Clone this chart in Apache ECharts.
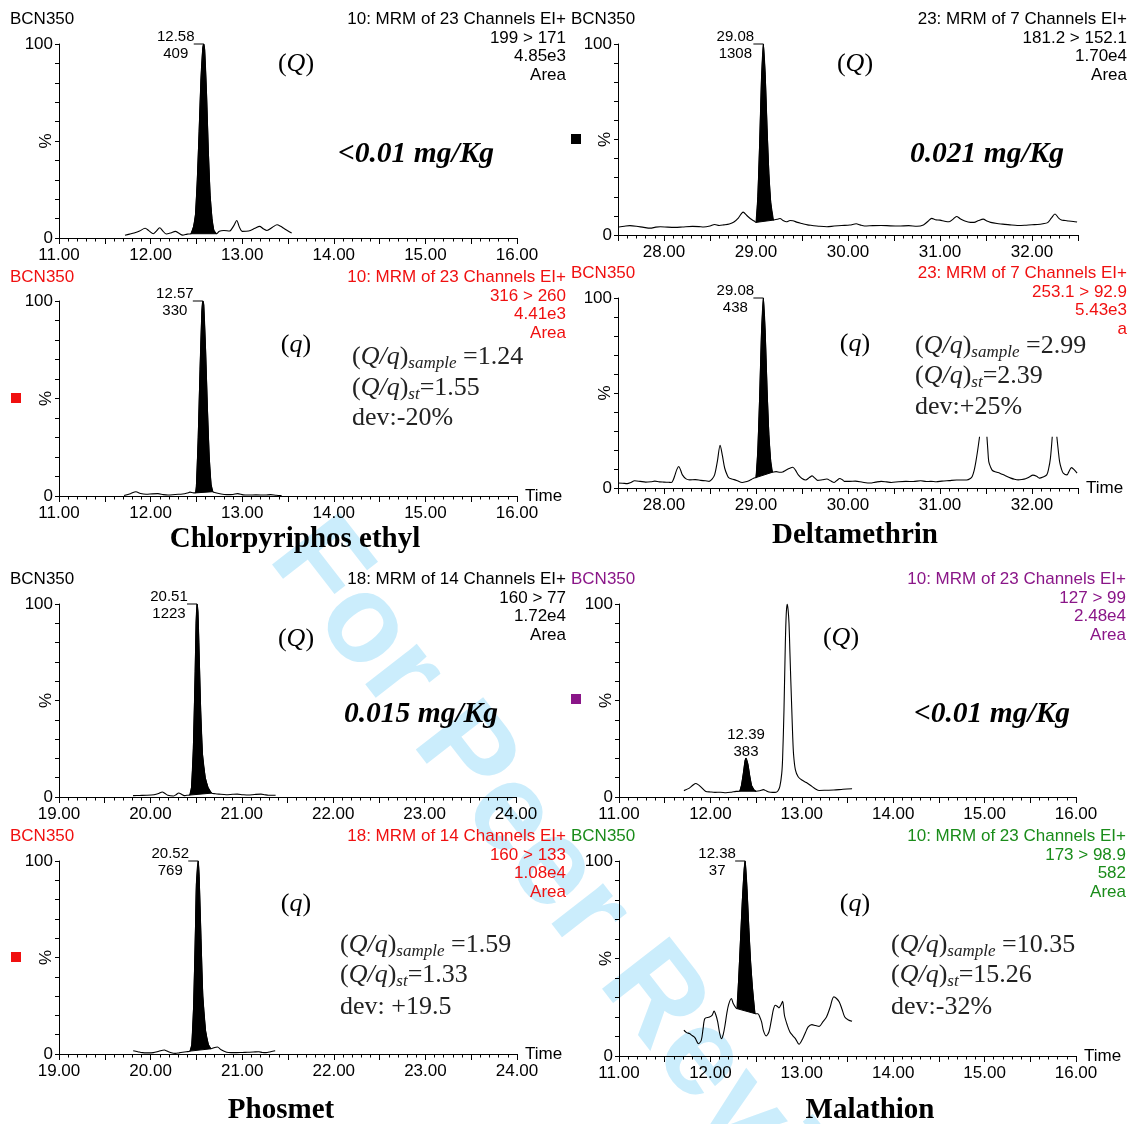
<!DOCTYPE html>
<html><head><meta charset="utf-8">
<script src="https://cdn.jsdelivr.net/npm/echarts@6/dist/echarts.min.js"></script>
<style>html,body{margin:0;padding:0;background:#fff}#c{width:1134px;height:1124px}</style>
</head><body><div id="c"></div>
<script>
// ---------- DATA (time in min, intensity in %) ----------
const chlorQPre = [[11.72,1.4],[11.77,2.0],[11.82,2.6],[11.88,3.6],[11.94,5.0],[11.98,3.8],[12.03,2.2],[12.06,3.4],[12.10,5.3],[12.13,3.8],[12.17,2.1],[12.22,2.6],[12.27,3.4],[12.31,2.4],[12.35,1.5],[12.40,2.0]];
const chlorQPeak = [[12.44,2.2],[12.47,6],[12.49,12],[12.51,30],[12.53,55],[12.55,82],[12.57,98],[12.58,100],[12.59,97],[12.61,75],[12.63,45],[12.65,22],[12.67,10],[12.69,4],[12.72,2.2]];
const chlorQPost = [[12.75,3.5],[12.80,3.9],[12.86,3.6],[12.91,6.5],[12.94,9],[12.97,5.5],[13.00,3.4],[13.07,3.6],[13.14,5],[13.19,6],[13.23,4.8],[13.27,3.9],[13.33,5.5],[13.38,6.8],[13.42,6],[13.46,4.8],[13.54,2.6]];

const chlorqPre = [[11.71,0.3],[11.78,1.2],[11.84,2.2],[11.89,1.3],[11.95,0.9],[12.02,1.1],[12.08,1.2],[12.14,0.7],[12.19,0.5],[12.27,0.8],[12.35,1.0],[12.40,1.5],[12.43,2.0],[12.47,1.6]];
const chlorqPeak = [[12.49,1.6],[12.50,5],[12.52,30],[12.54,65],[12.56,95],[12.57,100],[12.58,98],[12.60,75],[12.62,45],[12.64,20],[12.66,6],[12.68,2.2]];
const chlorqPost = [[12.71,1.7],[12.77,1.0],[12.83,0.7],[12.90,0.8],[12.95,1.2],[13.01,0.6],[13.07,0.5],[13.15,0.6],[13.25,0.5],[13.31,0.7],[13.37,0.4],[13.43,0.2]];

const deltaQPre = [[27.51,4.2],[27.57,4.6],[27.63,4.9],[27.70,4.6],[27.78,4.0],[27.85,3.6],[27.91,4.1],[27.96,4.3],[28.04,4.1],[28.12,4.0],[28.20,4.2],[28.31,4.5],[28.38,4.4],[28.43,4.2],[28.50,4.7],[28.55,5.5],[28.60,5.0],[28.65,5.3],[28.71,5.8],[28.76,6.8],[28.81,9],[28.86,12],[28.90,10.2],[28.94,8.5],[28.98,7.3]];
const deltaQPeak = [[29.00,6.6],[29.02,20],[29.04,48],[29.06,82],[29.08,100],[29.10,84],[29.12,56],[29.14,32],[29.16,17],[29.19,7.8]];
const deltaQPost = [[29.23,8.2],[29.26,8.6],[29.30,7.4],[29.33,6.9],[29.37,7.6],[29.40,7.5],[29.45,6.6],[29.50,6.0],[29.56,5.3],[29.61,5.0],[29.68,4.6],[29.77,4.3],[29.85,4.7],[29.93,5.0],[30.02,5.2],[30.09,5.9],[30.13,5.3],[30.18,4.7],[30.27,4.9],[30.36,5.0],[30.46,4.8],[30.55,4.7],[30.66,4.9],[30.75,4.6],[30.82,5.3],[30.87,7.2],[30.91,8.7],[30.95,8.0],[31.00,7.8],[31.05,7.2],[31.10,6.9],[31.14,8.2],[31.18,9.7],[31.22,8.5],[31.27,7.3],[31.33,6.6],[31.37,6.6],[31.42,7.6],[31.47,8.3],[31.51,7.3],[31.55,6.6],[31.62,6.0],[31.68,5.7],[31.76,5.3],[31.84,5.0],[31.92,5.1],[32.00,5.4],[32.06,5.5],[32.12,5.9],[32.17,6.5],[32.21,8.8],[32.25,11],[32.29,8.8],[32.32,7.8],[32.36,7.6],[32.40,7.3],[32.45,7.1],[32.49,6.8]];

const deltaqPre = [[27.50,2.6],[27.55,2.5],[27.60,2.3],[27.64,2.9],[27.68,3.8],[27.74,3.5],[27.80,3.1],[27.86,3.3],[27.90,3.6],[27.95,3.2],[28.00,3.1],[28.05,3.0],[28.08,2.9],[28.10,4.2],[28.12,6.9],[28.14,9.8],[28.16,11.3],[28.18,9.5],[28.20,6.9],[28.24,4.8],[28.28,4.3],[28.34,4.4],[28.40,4.0],[28.45,3.8],[28.49,3.5],[28.52,4.5],[28.55,6.9],[28.58,14],[28.61,22.5],[28.635,17],[28.66,10.4],[28.69,6.5],[28.71,5.2],[28.75,4.6],[28.79,4.0],[28.85,2.9],[28.89,3.3],[28.93,4.0],[28.96,4.8],[28.98,5.3]];
const deltaqPeak = [[29.00,5.5],[29.02,20],[29.04,48],[29.06,82],[29.08,100],[29.10,82],[29.12,52],[29.14,28],[29.16,14],[29.18,8.3]];
const deltaqPost = [[29.22,8.6],[29.26,8.3],[29.29,8.4],[29.32,9.2],[29.36,10.2],[29.40,10.9],[29.43,9.3],[29.46,6.9],[29.50,5.0],[29.54,4.2],[29.58,5.5],[29.61,6.4],[29.64,5.2],[29.67,4.0],[29.72,4.3],[29.77,4.7],[29.81,3.8],[29.85,2.9],[29.88,4.0],[29.91,5.0],[29.94,4.3],[29.96,3.5],[30.02,3.5],[30.08,3.6],[30.16,3.0],[30.24,2.6],[30.30,3.1],[30.36,3.5],[30.42,3.2],[30.47,2.9],[30.55,3.3],[30.63,3.5],[30.71,3.4],[30.79,3.8],[30.85,3.4],[30.90,3.5],[30.96,3.3],[31.02,3.6],[31.10,3.9],[31.18,4.2],[31.24,4.2],[31.29,4.2],[31.33,5.0],[31.35,6.1],[31.37,9],[31.39,13.9],[31.41,20],[31.43,27],[31.47,null],[31.51,27],[31.52,20],[31.53,13.9],[31.55,11],[31.57,9.2],[31.61,8.4],[31.65,7.8],[31.71,6.5],[31.77,5.2],[31.81,4.6],[31.85,4.3],[31.89,4.5],[31.93,4.9],[31.97,5.8],[32.01,6.8],[32.05,6.2],[32.08,5.2],[32.12,5.8],[32.16,6.9],[32.18,10],[32.20,15.6],[32.22,27],[32.245,null],[32.27,27],[32.285,20],[32.30,13.9],[32.32,10],[32.34,7.8],[32.38,6.9],[32.40,8.5],[32.43,10.7],[32.46,9.5],[32.49,7.8]];

const phosQPre = [[19.81,0.7],[19.88,0.8],[19.96,0.9],[20.04,1.2],[20.09,1.8],[20.13,2.6],[20.16,1.8],[20.19,0.9],[20.25,0.5],[20.28,1.2],[20.31,2.1],[20.34,1.4],[20.37,0.7],[20.40,0.9]];
const phosQPeak = [[20.43,1.0],[20.45,5],[20.47,25],[20.49,65],[20.50,90],[20.51,100],[20.52,96],[20.53,80],[20.55,45],[20.57,22],[20.60,10],[20.63,5],[20.67,2]];
const phosQPost = [[20.71,1.7],[20.75,1.5],[20.83,1.2],[20.90,1.4],[20.95,1.5],[21.01,1.2],[21.07,1.0],[21.14,1.3],[21.21,1.5],[21.25,1.2],[21.29,0.9],[21.37,0.9]];

const malQPre = [[11.71,3.3],[11.77,4.6],[11.81,6.2],[11.84,7.0],[11.87,6.3],[11.89,5.5],[11.95,2.9],[12.00,2.6],[12.05,2.4],[12.11,2.5],[12.17,2.2],[12.23,2.5],[12.28,2.9]];
const malQPeak = [[12.32,3.0],[12.34,6],[12.36,12],[12.38,19],[12.39,20],[12.41,17],[12.43,11],[12.45,6],[12.48,3.5],[12.50,3.0]];
const malQPost = [[12.54,3.2],[12.58,3.8],[12.61,3.2],[12.64,2.6],[12.68,2.4],[12.72,2.5],[12.74,3.2],[12.76,5.5],[12.78,12],[12.79,20],[12.805,45],[12.82,80],[12.83,95],[12.84,100],[12.85,97],[12.86,90],[12.87,75],[12.88,60],[12.89,46],[12.90,32],[12.91,22],[12.93,14],[12.96,10.5],[13.00,8.8],[13.05,7.5],[13.11,5.5],[13.15,4.2],[13.19,3.4],[13.27,3.5],[13.35,3.6],[13.45,4.0],[13.55,4.3]];

const phosqPre = [[19.81,1.7],[19.86,1.2],[19.91,0.7],[19.97,0.6],[20.03,0.7],[20.09,1.4],[20.15,2.1],[20.18,1.5],[20.21,0.9],[20.27,0.3],[20.31,0.6],[20.35,0.9],[20.39,1.2]];
const phosqPeak = [[20.43,1.5],[20.45,5],[20.47,25],[20.49,65],[20.50,88],[20.52,100],[20.53,92],[20.55,60],[20.57,30],[20.60,12],[20.63,5],[20.66,2.7]];
const phosqPost = [[20.70,3.4],[20.73,3.6],[20.77,2.2],[20.83,0.9],[20.88,0.7],[20.94,0.7],[21.00,0.8],[21.06,0.9],[21.12,1.0],[21.18,1.2],[21.22,0.8],[21.26,0.7],[21.31,1.2],[21.36,1.7]];

const malqPre = [[11.71,13.2],[11.74,12.0],[11.77,11.5],[11.80,10.5],[11.83,9.4],[11.87,6.3],[11.90,8],[11.92,14],[11.94,19.2],[11.99,20],[12.02,21],[12.04,23],[12.06,21],[12.08,17.5],[12.10,12],[12.12,8.9],[12.14,11],[12.16,15.8],[12.18,22],[12.20,26.5],[12.23,29.5],[12.25,26.9],[12.28,24.6]];
const malqPeak = [[12.29,24.3],[12.31,40],[12.33,60],[12.35,80],[12.37,96],[12.38,100],[12.40,86],[12.42,66],[12.44,48],[12.46,35],[12.48,25],[12.49,21.7]];
const malqPost = [[12.52,21.7],[12.54,20],[12.56,17.5],[12.58,13],[12.61,10.3],[12.64,12.3],[12.67,19.2],[12.69,24],[12.71,26],[12.73,25.5],[12.75,24.7],[12.77,26],[12.79,28],[12.81,20.9],[12.84,16],[12.87,12.3],[12.90,10.5],[12.93,8.9],[12.97,6],[13.01,8.9],[13.04,12],[13.07,14.9],[13.11,16.1],[13.15,15.6],[13.19,15.2],[13.23,17.5],[13.27,20],[13.31,25],[13.35,30.3],[13.38,29.5],[13.41,27.7],[13.44,24],[13.47,20],[13.51,18.5],[13.55,17.8]];

// axis ranges (min, max)
const chlorRange = [11, 16];
const deltaRange = [27.5, 32.5];
const phosRange = [19, 24];
const malRange = [11, 16];

// peak labels (retention time, area)
const chlorQLabel = ['12.58', '409'];
const chlorqLabel = ['12.57', '330'];
const deltaQLabel = ['29.08', '1308'];
const deltaqLabel = ['29.08', '438'];
const phosQLabel = ['20.51', '1223'];
const malQLabel = ['12.39', '383'];
const phosqLabel = ['20.52', '769'];
const malqLabel = ['12.38', '37'];

// header texts
const hdrChlorQ = ['10: MRM of 23 Channels EI+', '199 > 171', '4.85e3', 'Area'];
const hdrChlorq = ['10: MRM of 23 Channels EI+', '316 > 260', '4.41e3', 'Area'];
const hdrDeltaQ = ['23: MRM of 7 Channels EI+', '181.2 > 152.1', '1.70e4', 'Area'];
const hdrDeltaq = ['23: MRM of 7 Channels EI+', '253.1 > 92.9', '5.43e3', 'a'];
const hdrPhosQ = ['18: MRM of 14 Channels EI+', '160 > 77', '1.72e4', 'Area'];
const hdrMalQ = ['10: MRM of 23 Channels EI+', '127 > 99', '2.48e4', 'Area'];
const hdrPhosq = ['18: MRM of 14 Channels EI+', '160 > 133', '1.08e4', 'Area'];
const hdrMalq = ['10: MRM of 23 Channels EI+', '173 > 98.9', '582', 'Area'];

const ratioChlor = ['1.24', '1.55', 'dev:-20%'];
const ratioDelta = ['2.99', '2.39', 'dev:+25%'];
const ratioPhos = ['1.59', '1.33', 'dev: +19.5'];
const ratioMal = ['10.35', '15.26', 'dev:-32%'];

// ---------- LAYOUT ----------
const SANS = 'Liberation Sans';
const SERIF = 'Liberation Serif';
const RED = '#f01010', PURPLE = '#8a1688', GREEN = '#1a8c1a';
const FS = 17;

const panels = [
  {grid:{left:59, top:44, width:458, height:194}, range:chlorRange, pre:chlorQPre, peak:chlorQPeak, post:chlorQPost, label:chlorQLabel, above:false, time:false,
   hdr:hdrChlorQ, hx:10, hr:566, hy:[17,36,54,73], color:'#000', square:null, qt:'Q', qpos:[296,62], conc:'<0.01 mg/Kg', cpos:[416,152]},
  {grid:{left:618, top:44, width:460, height:191}, range:deltaRange, pre:deltaQPre, peak:deltaQPeak, post:deltaQPost, label:deltaQLabel, above:false, time:false,
   hdr:hdrDeltaQ, hx:571, hr:1127, hy:[17,36,54,73], color:'#000', square:[571,134,'#000'], qt:'Q', qpos:[855,62], conc:'0.021 mg/Kg', cpos:[987,152]},
  {grid:{left:59, top:301, width:458, height:195}, range:chlorRange, pre:chlorqPre, peak:chlorqPeak, post:chlorqPost, label:chlorqLabel, above:false, time:true,
   hdr:hdrChlorq, hx:10, hr:566, hy:[275,294,312,331], color:RED, square:[11,393,RED], qt:'q', qpos:[296,343], ratio:ratioChlor, rpos:[352,355,386,416], title:'Chlorpyriphos ethyl', tpos:[295,537]},
  {grid:{left:618, top:298, width:460, height:190}, range:deltaRange, pre:deltaqPre, peak:deltaqPeak, post:deltaqPost, label:deltaqLabel, above:false, time:true,
   hdr:hdrDeltaq, hx:571, hr:1127, hy:[271,290,308,327], color:RED, square:null, qt:'q', qpos:[855,342], ratio:ratioDelta, rpos:[915,344,374,405], title:'Deltamethrin', tpos:[855,533]},
  {grid:{left:59, top:604, width:457, height:193}, range:phosRange, pre:phosQPre, peak:phosQPeak, post:phosQPost, label:phosQLabel, above:false, time:false,
   hdr:hdrPhosQ, hx:10, hr:566, hy:[577,596,614,633], color:'#000', square:null, qt:'Q', qpos:[296,637], conc:'0.015 mg/Kg', cpos:[421,712]},
  {grid:{left:619, top:604, width:457, height:193}, range:malRange, pre:malQPre, peak:malQPeak, post:malQPost, label:malQLabel, above:true, time:false,
   hdr:hdrMalQ, hx:571, hr:1126, hy:[577,596,614,633], color:PURPLE, square:[571,694,PURPLE], qt:'Q', qpos:[841,636], conc:'<0.01 mg/Kg', cpos:[992,712]},
  {grid:{left:59, top:861, width:458, height:193}, range:phosRange, pre:phosqPre, peak:phosqPeak, post:phosqPost, label:phosqLabel, above:false, time:true,
   hdr:hdrPhosq, hx:10, hr:566, hy:[834,853,871,890], color:RED, square:[11,952,RED], qt:'q', qpos:[296,902], ratio:ratioPhos, rpos:[340,943,973,1005], title:'Phosmet', tpos:[281,1108]},
  {grid:{left:619, top:861, width:457, height:195}, range:malRange, pre:malqPre, peak:malqPeak, post:malqPost, label:malqLabel, above:false, time:true,
   hdr:hdrMalq, hx:571, hr:1126, hy:[834,853,871,890], color:GREEN, square:null, qt:'q', qpos:[855,902], ratio:ratioMal, rpos:[891,943,973,1005], title:'Malathion', tpos:[870,1108]}
];

const DY = 2; // visual baseline correction for canvas "middle"
function txt(x, y, text, st) {
  return {type:'text', x:x, y:y + DY, silent:true, z:50,
    style:Object.assign({text:text, fill:'#000', fontFamily:SANS, fontSize:FS, align:'left', verticalAlign:'middle', textAlign:'left', textVerticalAlign:'middle'}, st)};
}

const grids = [], xAxes = [], yAxes = [], series = [];
const graphic = [];

// watermark
graphic.push({type:'text', x:294, y:537, rotation:-0.91, silent:true, z:-100,
  style:{text:'For Peer Review', fill:'#cbedfc', fontFamily:SANS, fontWeight:'bold', fontSize:124, align:'left', verticalAlign:'middle', textAlign:'left', textVerticalAlign:'middle'}});

panels.forEach(function (p, i) {
  grids.push(Object.assign({outerBoundsMode:'none', containLabel:false}, p.grid));
  xAxes.push({type:'value', gridIndex:i, min:p.range[0], max:p.range[1], interval:0.5,
    name:p.time ? 'Time' : '', nameLocation:'end', nameGap:8, nameMoveOverlap:false,
    nameTextStyle:{fontSize:FS, color:'#000', fontFamily:SANS, align:'left', verticalAlign:'middle'},
    axisLine:{show:true, onZero:false, lineStyle:{color:'#000', width:1}},
    axisTick:{show:true, length:6, lineStyle:{color:'#000', width:1}},
    minorTick:{show:true, splitNumber:5, length:3.5, lineStyle:{color:'#000', width:1}},
    axisLabel:{show:true, interval:0, margin:9, fontSize:FS, color:'#000', fontFamily:SANS,
      formatter:function (v) { return Math.abs(v - Math.round(v)) < 1e-6 ? Math.round(v).toFixed(2) : ''; }},
    splitLine:{show:false}, minorSplitLine:{show:false}});
  yAxes.push({type:'value', gridIndex:i, min:0, max:100, interval:10,
    name:'%', nameLocation:'middle', nameGap:4, nameRotate:90, nameMoveOverlap:false,
    nameTextStyle:{fontSize:FS, color:'#000', fontFamily:SANS},
    axisLine:{show:true, onZero:false, lineStyle:{color:'#000', width:1}},
    axisTick:{show:true, length:4, lineStyle:{color:'#000', width:1}},
    axisLabel:{show:true, margin:6, fontSize:FS, color:'#000', fontFamily:SANS,
      formatter:function (v) { return (v === 0 || v === 100) ? String(v) : ''; }},
    splitLine:{show:false}});

  const full = p.pre.concat(p.peak, p.post);
  const top = p.peak.reduce(function (a, b) { return b[1] > a[1] ? b : a; });
  series.push({type:'line', xAxisIndex:i, yAxisIndex:i, data:full, symbol:'none', smooth:0.3, connectNulls:false,
    lineStyle:{color:'#000', width:1.1}, silent:true, z:4,
    markPoint:{silent:true, animation:false,
      data:[{coord:top, symbol:'rect', symbolSize:p.above ? [1,1] : [10,1], symbolOffset:p.above ? [0,0] : [-5,0],
        itemStyle:{color:p.above ? 'rgba(0,0,0,0)' : '#000'},
        label:{show:true, position:'inside', offset:p.above ? [0,-15] : [-23,1], align:'center', verticalAlign:'middle',
          formatter:p.label.join('\n'), color:'#000', fontSize:15, lineHeight:17, fontFamily:SANS}}]}});
  const pk = p.peak;
  series.push({type:'custom', xAxisIndex:i, yAxisIndex:i, data:[pk[0]], silent:true, z:3,
    renderItem:function (params, api) {
      return {type:'polygon', shape:{points:pk.map(function (pt) { return api.coord(pt); })},
        style:{fill:'#000', stroke:'#000', lineWidth:1}};
    }});

  // header texts
  graphic.push(txt(p.hx, p.hy[0], 'BCN350', {fill:p.color}));
  p.hdr.forEach(function (t, k) {
    graphic.push(txt(p.hr, p.hy[k], t, {fill:p.color, align:'right', textAlign:'right'}));
  });
  if (p.square) graphic.push({type:'rect', silent:true, z:50, shape:{x:p.square[0], y:p.square[1], width:10, height:10}, style:{fill:p.square[2]}});
  // (Q)/(q)
  graphic.push(txt(p.qpos[0], p.qpos[1], '{p|(}{i|' + p.qt + '}{p|)}', {align:'center', textAlign:'center', fontFamily:SERIF, fontSize:26,
    rich:{p:{fontFamily:SERIF, fontSize:26, fill:'#000'}, i:{fontFamily:SERIF, fontSize:26, fontStyle:'italic', fill:'#000'}}}));
  if (p.conc) graphic.push(txt(p.cpos[0], p.cpos[1], p.conc, {align:'center', textAlign:'center', fontFamily:SERIF, fontSize:29.5, fontWeight:'bold', fontStyle:'italic'}));
  if (p.ratio) {
    const rich = {p:{fontFamily:SERIF, fontSize:26, lineHeight:30, fill:'#222'},
                  i:{fontFamily:SERIF, fontSize:26, lineHeight:30, fontStyle:'italic', fill:'#222'},
                  sub:{fontFamily:SERIF, fontSize:17, lineHeight:11, fontStyle:'italic', fill:'#222', verticalAlign:'bottom'}};
    graphic.push(txt(p.rpos[0], p.rpos[1], '{p|(}{i|Q/q}{p|)}{sub|sample}{p| =' + p.ratio[0] + '}', {fontFamily:SERIF, fontSize:26, rich:rich}));
    graphic.push(txt(p.rpos[0], p.rpos[2], '{p|(}{i|Q/q}{p|)}{sub|st}{p|=' + p.ratio[1] + '}', {fontFamily:SERIF, fontSize:26, rich:rich}));
    graphic.push(txt(p.rpos[0], p.rpos[3], p.ratio[2], {fontFamily:SERIF, fontSize:26, fill:'#222'}));
  }
  if (p.title) graphic.push(txt(p.tpos[0], p.tpos[1] + 1, p.title, {align:'center', textAlign:'center', fontFamily:SERIF, fontSize:29, fontWeight:'bold'}));
});

const chart = echarts.init(document.getElementById('c'), null, {renderer:'canvas'});
chart.setOption({
  animation:false,
  backgroundColor:'#fff',
  grid:grids, xAxis:xAxes, yAxis:yAxes, series:series,
  graphic:{elements:graphic}
});
</script></body></html>
